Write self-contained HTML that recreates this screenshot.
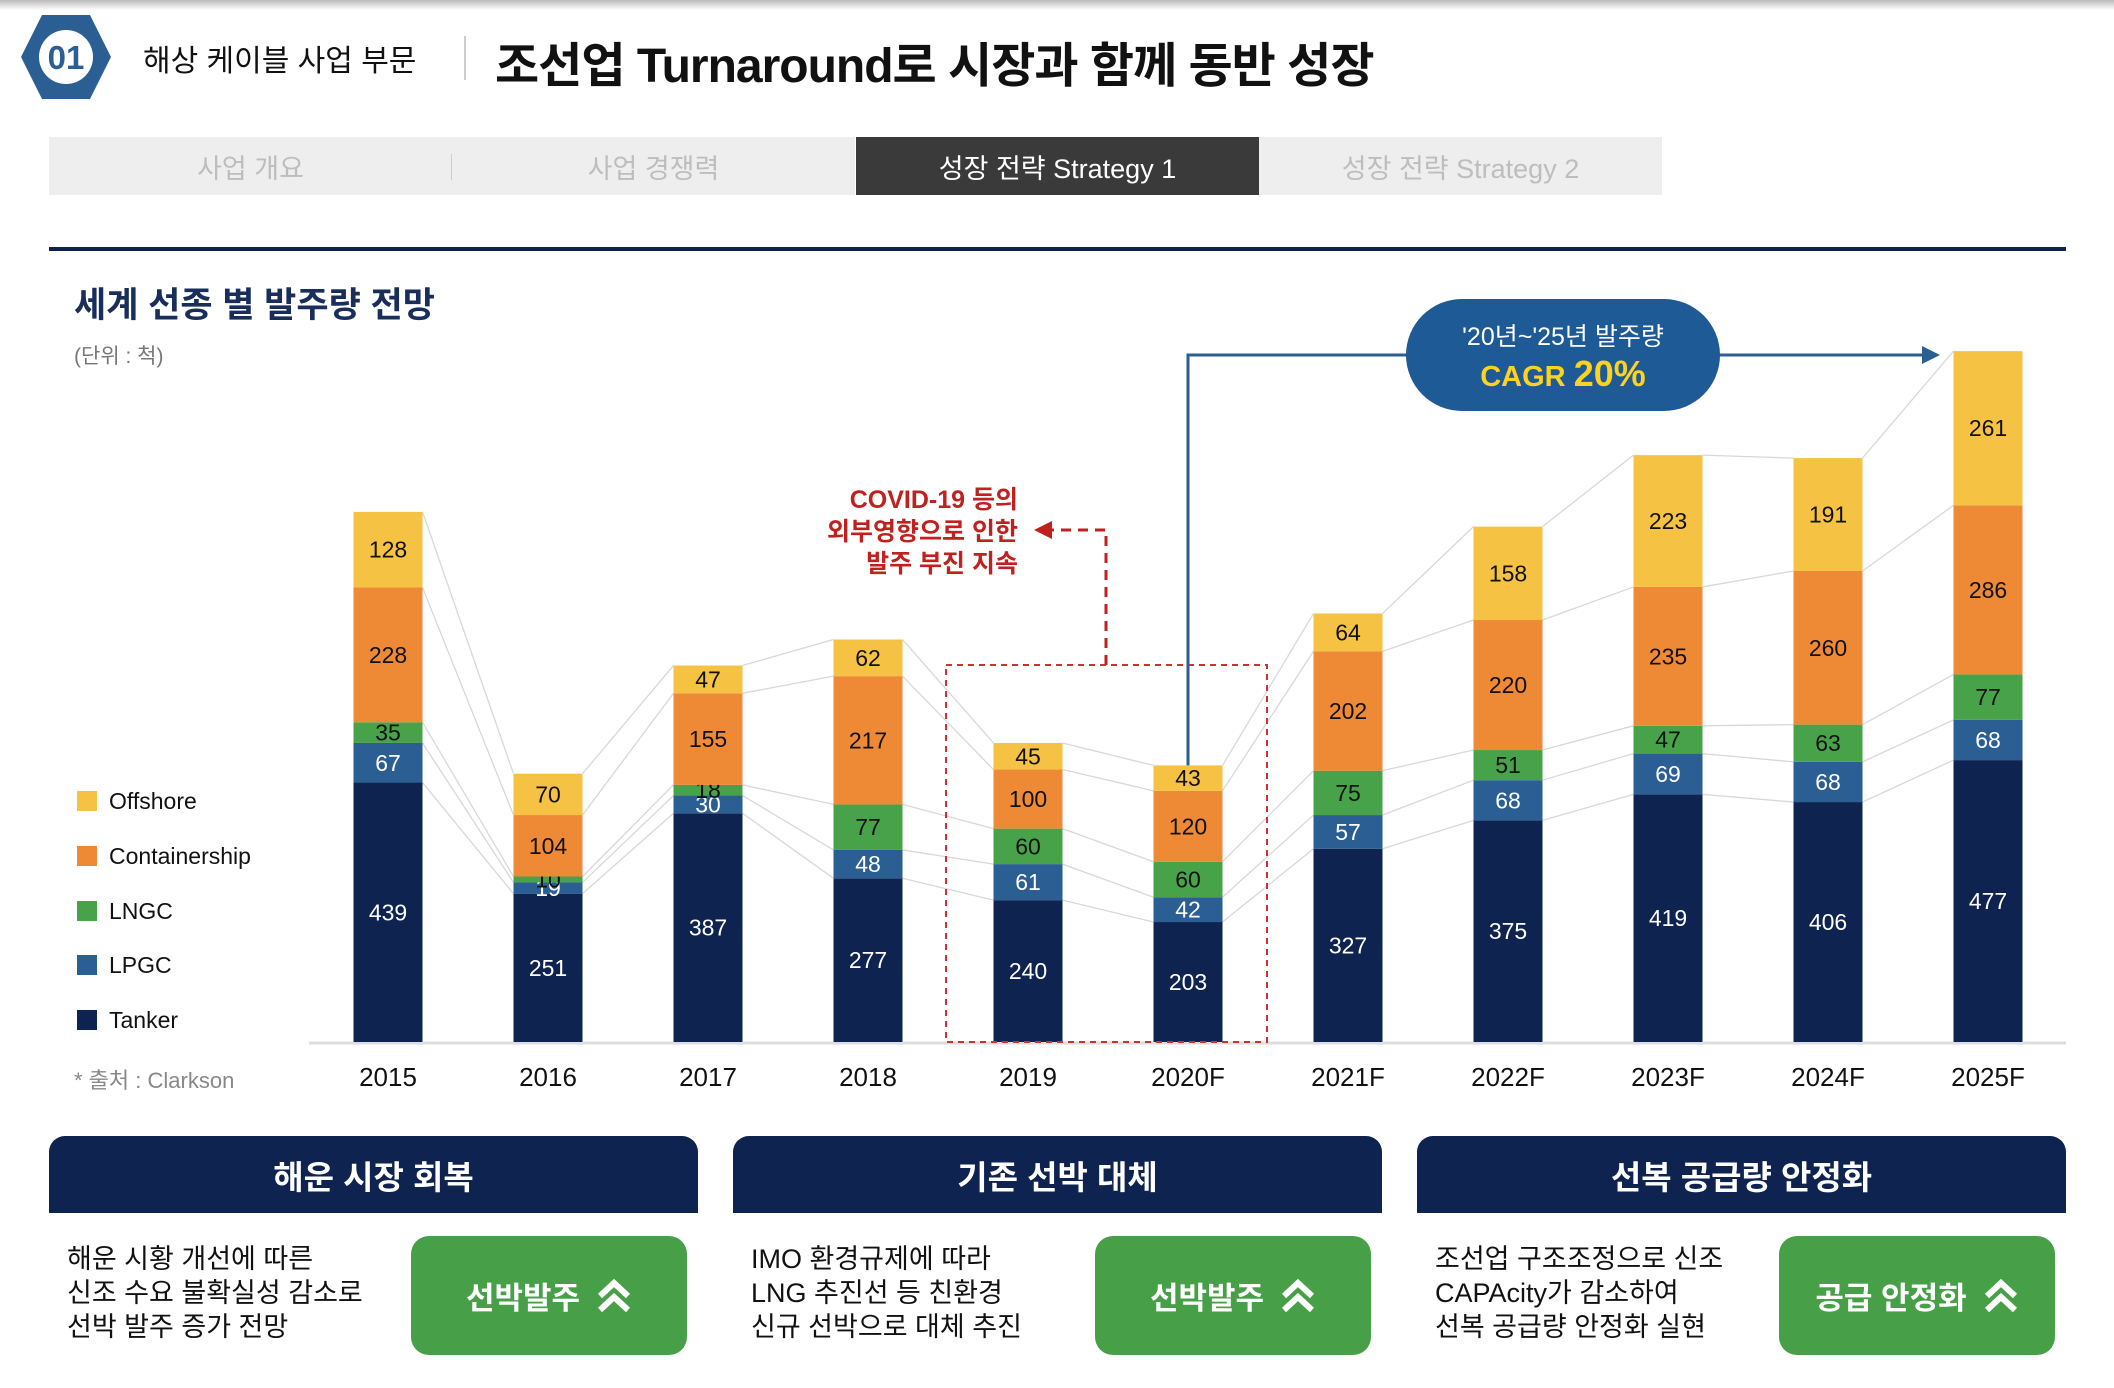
<!DOCTYPE html>
<html><head><meta charset="utf-8">
<style>
*{margin:0;padding:0;box-sizing:border-box}
body{width:2114px;height:1388px;background:#fff;position:relative;overflow:hidden;font-family:"Liberation Sans","Noto Sans CJK KR",sans-serif;color:#111}
.abs{position:absolute}
.tab{position:absolute;top:137px;height:58px;width:403px;background:#eeeeee;color:#bdbdbd;font-size:27px;display:flex;align-items:center;justify-content:center}
.panel-h{position:absolute;top:1136px;height:77px;width:649px;background:#0f2350;border-radius:16px 16px 0 0;color:#fff;font-weight:bold;font-size:33px;display:flex;align-items:center;justify-content:center}
.panel-t{position:absolute;top:1242px;font-size:27px;line-height:34px;color:#111}
.btn{position:absolute;top:1236px;height:119px;width:276px;background:#47a048;border-radius:18px;color:#fff;font-weight:bold;font-size:31px;display:flex;align-items:center;justify-content:center;gap:16px}
</style></head><body>
<div class="abs" style="left:0;top:0;width:2114px;height:10px;background:linear-gradient(#bbb,#fff)"></div>
<svg class="abs" style="left:20px;top:14px" width="92" height="86" viewBox="0 0 92 86"><polygon points="22,1 70,1 91,43 70,85 22,85 1,43" fill="#2b5f94"/><circle cx="46" cy="43" r="27" fill="#fff"/><text x="46" y="55" text-anchor="middle" font-size="33" font-weight="bold" fill="#2b5f94" font-family="Liberation Sans,sans-serif">01</text></svg>
<div class="abs" style="left:143px;top:36px;font-size:30px;color:#111">해상 케이블 사업 부문</div>
<div class="abs" style="left:464px;top:36px;width:2px;height:44px;background:#ccc"></div>
<div class="abs" style="left:495px;top:26px;font-size:48px;font-weight:bold;letter-spacing:-1px">조선업 Turnaround로 시장과 함께 동반 성장</div>
<div class="tab" style="left:49px">사업 개요</div>
<div class="abs" style="left:451px;top:154px;width:2px;height:26px;background:#ccc"></div>
<div class="tab" style="left:452px">사업 경쟁력</div>
<div class="tab" style="left:856px;background:#3a3a3a;color:#fff">성장 전략 Strategy 1</div>
<div class="tab" style="left:1259px">성장 전략 Strategy 2</div>
<div class="abs" style="left:49px;top:247px;width:2017px;height:4px;background:#0f2350"></div>
<div class="abs" style="left:74px;top:277px;font-size:35px;font-weight:bold;color:#1a2e5c">세계 선종 별 발주량 전망</div>
<div class="abs" style="left:74px;top:340px;font-size:21px;color:#777">(단위 : 척)</div>
<div class="abs" style="left:74px;top:1063px;font-size:22px;color:#888">* 출처 : Clarkson</div>

<svg id="chart" class="abs" style="left:0;top:0" width="2114" height="1388"></svg>

<div class="panel-h" style="left:49px">해운 시장 회복</div>
<div class="panel-t" style="left:67px">해운 시황 개선에 따른<br>신조 수요 불확실성 감소로<br>선박 발주 증가 전망</div>
<div class="btn" style="left:411px">선박발주 <svg width="36" height="36" viewBox="0 0 36 36"><polyline points="4,18 18,5 32,18" fill="none" stroke="#fff" stroke-width="6"/><polyline points="4,32 18,19 32,32" fill="none" stroke="#fff" stroke-width="6"/></svg></div>
<div class="panel-h" style="left:733px">기존 선박 대체</div>
<div class="panel-t" style="left:751px">IMO 환경규제에 따라<br>LNG 추진선 등 친환경<br>신규 선박으로 대체 추진</div>
<div class="btn" style="left:1095px">선박발주 <svg width="36" height="36" viewBox="0 0 36 36"><polyline points="4,18 18,5 32,18" fill="none" stroke="#fff" stroke-width="6"/><polyline points="4,32 18,19 32,32" fill="none" stroke="#fff" stroke-width="6"/></svg></div>
<div class="panel-h" style="left:1417px">선복 공급량 안정화</div>
<div class="panel-t" style="left:1435px">조선업 구조조정으로 신조<br>CAPAcity가 감소하여<br>선복 공급량 안정화 실현</div>
<div class="btn" style="left:1779px">공급 안정화 <svg width="36" height="36" viewBox="0 0 36 36"><polyline points="4,18 18,5 32,18" fill="none" stroke="#fff" stroke-width="6"/><polyline points="4,32 18,19 32,32" fill="none" stroke="#fff" stroke-width="6"/></svg></div>

<script>
const categories=["2015","2016","2017","2018","2019","2020F","2021F","2022F","2023F","2024F","2025F"];
const tanker=[439,251,387,277,240,203,327,375,419,406,477];
const lpgc=[67,19,30,48,61,42,57,68,69,68,68];
const lngc=[35,10,18,77,60,60,75,51,47,63,77];
const container=[228,104,155,217,100,120,202,220,235,260,286];
const offshore=[128,70,47,62,45,43,64,158,223,191,261];
const seriesNames=["Tanker","LPGC","LNGC","Containership","Offshore"];
const NS="http://www.w3.org/2000/svg";
const svg=document.getElementById('chart');
const series=[tanker,lpgc,lngc,container,offshore];
const colors=["#0f2350","#2b5f94","#48a24a","#ee8a35","#f6c244"];
const txtCol=["#fff","#fff","#111","#111","#111"];
const base=1042,unit=0.591,x0=388,step=160,bw=69;
const xc=i=>x0+i*step;
const yv=v=>base-v*unit;
function el(tag,a,p){const e=document.createElementNS(NS,tag);for(const k in a)e.setAttribute(k,a[k]);(p||svg).appendChild(e);return e;}
const bl=el('line',{x1:309,y1:base+1,x2:2066,y2:base+1,stroke:'#ddd','stroke-width':3});


const cum=categories.map((c,i)=>{let s=0;return series.map(a=>s+=a[i]);});
for(let i=0;i<categories.length-1;i++){for(let k=0;k<5;k++){
 const ln=el('line',{x1:xc(i)+bw/2,y1:yv(cum[i][k]),x2:xc(i+1)-bw/2,y2:yv(cum[i+1][k]),stroke:'#d8d8d8','stroke-width':1.3});
 
 
}}
categories.forEach((c,i)=>{
 let s=0;
 series.forEach((arr,k)=>{
  const v=arr[i];const y1=yv(s+v),y0=yv(s);
  const r=el('rect',{x:xc(i)-bw/2,y:y1,width:bw,height:y0-y1,fill:colors[k]});
  
  
  const t=el('text',{x:xc(i),y:(y0+y1)/2+8,'text-anchor':'middle','font-size':23,fill:txtCol[k]});
  t.textContent=v;
  
  
  s+=v;
 });
 const xt=el('text',{x:xc(i),y:1086,'text-anchor':'middle','font-size':26,fill:'#111'});
 xt.textContent=c;
 
 
});
const legendY=[801,856,911,965,1020];
[4,3,2,1,0].forEach((k,j)=>{
 const r=el('rect',{x:77,y:legendY[j]-10,width:20,height:20,fill:colors[k]});
 
 
 const t=el('text',{x:109,y:legendY[j]+8,'font-size':23,fill:'#111'});
 t.textContent=seriesNames[k];
 
 
});
const bx=el('rect',{x:946,y:665,width:321,height:377,fill:'none',stroke:'#d03030','stroke-width':2,'stroke-dasharray':'6,5'});


const cp=el('polyline',{points:'1106,665 1106,530 1050,530',fill:'none',stroke:'#c0201e','stroke-width':3,'stroke-dasharray':'10,7'});


el('polygon',{points:'1034,530 1052,521 1052,539',fill:'#c0201e'});
["COVID-19 등의","외부영향으로 인한","발주 부진 지속"].forEach((s,j)=>{
 const t=el('text',{x:1018,y:508+j*32,'text-anchor':'end','font-size':25,'font-weight':'bold',fill:'#c0201e'});
 t.textContent=s;
 
 
});
const i20=categories.indexOf("2020F");
const cl=el('polyline',{points:`${xc(i20)},${yv(cum[i20][4])} ${xc(i20)},355 1410,355`,fill:'none',stroke:'#2b5f94','stroke-width':3});


const cr=el('line',{x1:1716,y1:355,x2:1925,y2:355,stroke:'#2b5f94','stroke-width':3});


el('polygon',{points:'1940,355 1922,346 1922,364',fill:'#2b5f94'});
const pill=el('rect',{x:1406,y:299,width:314,height:112,rx:56,fill:'#1e5a96'});


const t1=el('text',{x:1563,y:345,'text-anchor':'middle','font-size':25,fill:'#fff'});
t1.textContent="'20년~'25년 발주량";


const t2=el('text',{x:1563,y:386,'text-anchor':'middle','font-size':29,'font-weight':'bold',fill:'#ffd21f'});
t2.innerHTML='CAGR <tspan font-size="36">20%</tspan>';


</script>
</body></html>
